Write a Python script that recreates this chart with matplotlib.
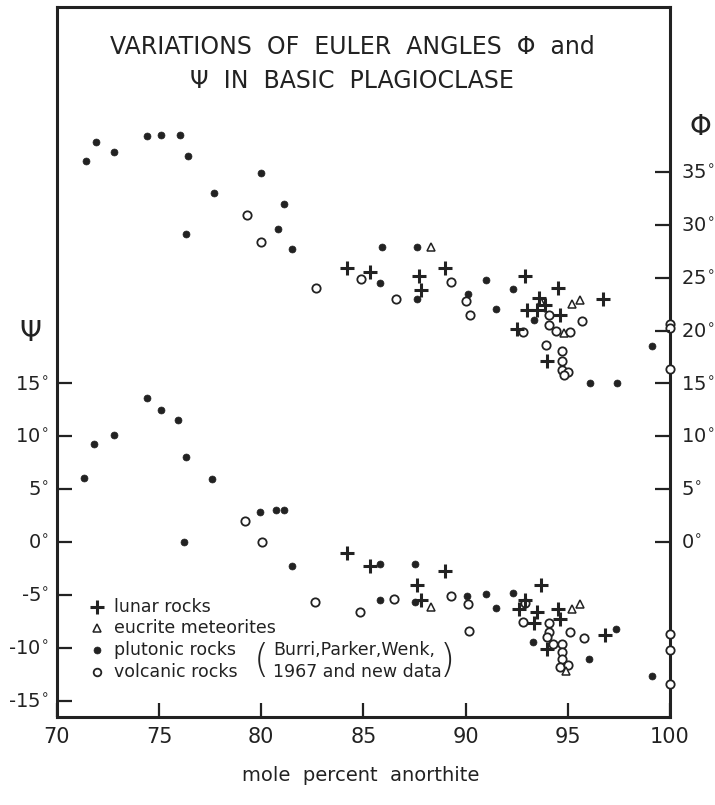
import numpy as np
import matplotlib
matplotlib.use("Agg")
import matplotlib.pyplot as plt

# (mole % An, angle)
lunar_phi = [(84.2, 25.9), (85.3, 25.5), (87.7, 25.2), (87.8, 23.8), (89.0, 25.9),
             (92.9, 25.2), (94.5, 24.0), (93.6, 23.1), (93.9, 22.4), (93.0, 21.9),
             (93.5, 21.9), (94.6, 21.5), (96.7, 23.0), (92.5, 20.1), (94.0, 17.1)]
eucrite_phi = [(88.3, 27.9), (93.7, 22.7), (94.8, 19.8), (95.2, 22.5), (95.6, 22.9)]
plutonic_phi = [(71.4, 36.0), (71.9, 37.8), (72.8, 36.9), (74.4, 38.4), (75.1, 38.5),
                (76.0, 38.5), (76.4, 36.5), (76.3, 29.1), (77.7, 33.0), (80.0, 34.9),
                (81.1, 32.0), (80.8, 29.6), (81.5, 27.7), (85.9, 27.9), (85.8, 24.5),
                (87.6, 27.9), (87.6, 23.0), (91.0, 24.8), (90.1, 23.5), (91.5, 22.0),
                (92.3, 23.9), (93.35, 21.0), (96.1, 15.0), (97.4, 15.0), (99.1, 18.5)]
volcanic_phi = [(79.3, 30.9), (80.0, 28.4), (82.7, 24.0), (84.9, 24.9), (86.6, 23.0),
                (89.3, 24.6), (90.0, 22.8), (90.2, 21.5), (94.1, 21.5), (94.1, 20.5),
                (94.4, 20.0), (95.1, 19.9), (95.7, 20.9), (92.8, 19.9), (93.95, 18.6),
                (94.7, 18.1), (94.7, 17.1), (94.7, 16.3), (95.0, 16.1), (94.8, 15.8),
                (100, 20.6), (100, 20.2), (100, 16.4)]

lunar_psi = [(84.2, -1.0), (85.3, -2.3), (89.0, -2.7), (87.6, -4.1), (87.8, -5.5),
             (93.7, -4.1), (92.9, -5.5), (92.6, -6.3), (93.5, -6.6), (93.35, -7.7),
             (94.5, -6.3), (94.6, -7.3), (94.0, -10.1), (96.8, -8.8)]
eucrite_psi = [(88.3, -6.1), (95.2, -6.3), (95.6, -5.9), (94.9, -12.2)]
plutonic_psi = [(71.3, 6.1), (71.8, 9.3), (72.8, 10.1), (74.4, 13.6), (75.1, 12.5),
                (75.9, 11.5), (76.3, 8.0), (77.6, 6.0), (76.2, 0.0), (79.95, 2.8),
                (80.7, 3.0), (81.1, 3.0), (81.5, -2.3), (85.8, -2.1), (87.5, -2.1),
                (85.8, -5.5), (87.5, -5.7), (90.05, -5.1), (91.0, -4.9), (91.5, -6.2),
                (92.3, -4.8), (93.3, -9.5), (97.35, -8.2), (96.05, -11.1), (99.1, -12.7)]
volcanic_psi = [(79.2, 2.0), (80.05, 0.0), (82.65, -5.7), (84.85, -6.65), (86.5, -5.4),
                (89.3, -5.1), (90.1, -5.9), (90.15, -8.4), (92.9, -5.8), (92.8, -7.6),
                (94.1, -7.7), (94.1, -8.5), (93.96, -9.0), (94.3, -9.6), (94.7, -9.65),
                (94.7, -10.4), (94.7, -11.1), (94.6, -11.8), (95.0, -11.6), (95.1, -8.5),
                (95.8, -9.1), (100, -8.7), (100, -10.2), (100, -13.4)]

x_ticks = [70, 75, 80, 85, 90, 95, 100]
psi_ticks = [-15, -10, -5, 0, 5, 10, 15]
phi_ticks = [0, 5, 10, 15, 20, 25, 30, 35]

legend_labels = ["lunar rocks", "eucrite meteorites", "plutonic rocks", "volcanic rocks"]

ink = "#222222"
styles = {
    "lunar": dict(marker="+", ms=10, mew=2.2, color=ink, ls="none"),
    "eucrite": dict(marker="^", ms=6, mew=1.1, mfc="white", mec=ink, ls="none"),
    "plutonic": dict(marker="o", ms=5, mew=0.5, mfc=ink, mec=ink, ls="none"),
    "volcanic": dict(marker="o", ms=6, mew=1.3, mfc="white", mec=ink, ls="none"),
}

fig = plt.figure(figsize=(7.15, 8.05), dpi=100)
ax = fig.add_axes([0.0797, 0.1093, 0.8573, 0.882])

series = [("plutonic", plutonic_phi), ("plutonic", plutonic_psi),
          ("volcanic", volcanic_phi), ("volcanic", volcanic_psi),
          ("eucrite", eucrite_phi), ("eucrite", eucrite_psi),
          ("lunar", lunar_phi), ("lunar", lunar_psi)]
for kind, pts in series:
    a = np.array(pts)
    ax.plot(a[:, 0], a[:, 1], clip_on=False, zorder=3, **styles[kind])

ax.set_xlim(70, 100)
ax.set_ylim(-16.55, 50.6)

for s in ax.spines.values():
    s.set_linewidth(2.2)
    s.set_color(ink)

deg = lambda v: "%d$^{\\circ}$" % v
ax.set_xticks(x_ticks)
ax.set_xticklabels([str(v) for v in x_ticks], fontsize=15, color=ink)
ax.set_yticks(psi_ticks)
ax.set_yticklabels([deg(v) for v in psi_ticks], fontsize=14, color=ink)
ax.tick_params(axis="x", direction="in", length=10, width=1.6, pad=7, colors=ink)
ax.tick_params(axis="y", direction="in", length=11, width=1.6, pad=6, colors=ink)

ax2 = ax.twinx()
ax2.set_ylim(ax.get_ylim())
ax2.set_yticks(phi_ticks)
ax2.set_yticklabels([deg(v) for v in phi_ticks], fontsize=14, color=ink)
ax2.tick_params(axis="y", direction="in", length=11, width=1.6, pad=8, colors=ink)
for s in ax2.spines.values():
    s.set_visible(False)

# titles and axis symbols
ax.text(0.482, 0.943, "VARIATIONS  OF  EULER  ANGLES  \u03a6  and", transform=ax.transAxes,
        ha="center", va="center", fontsize=17, color=ink)
ax.text(0.482, 0.896, "\u03a8  IN  BASIC  PLAGIOCLASE", transform=ax.transAxes,
        ha="center", va="center", fontsize=17, color=ink)
fig.text(30 / 715, 1 - 333 / 805, "\u03a8", ha="center", va="center", fontsize=20, color=ink)
fig.text(700 / 715, 1 - 127 / 805, "\u03a6", ha="center", va="center", fontsize=20, color=ink)
fig.text(0.505, 1 - 775 / 805, "mole  percent  anorthite", ha="center", va="center",
         fontsize=14, color=ink)

# hand-made legend
rows_y = [0.155, 0.125, 0.094, 0.063]
for kind, label, yy in zip(["lunar", "eucrite", "plutonic", "volcanic"], legend_labels, rows_y):
    st = dict(styles[kind])
    if kind == "volcanic":
        st["ms"] = 5.5
    ax.plot([0.065], [yy], transform=ax.transAxes, clip_on=False, **st)
    ax.text(0.093, yy, label, transform=ax.transAxes, ha="left", va="center",
            fontsize=12.5, color=ink)

ax.text(0.352, 0.094, "Burri,Parker,Wenk,", transform=ax.transAxes, ha="left",
        va="center", fontsize=12.5, color=ink)
ax.text(0.352, 0.063, "1967 and new data", transform=ax.transAxes, ha="left",
        va="center", fontsize=12.5, color=ink)
ax.text(0.333, 0.079, "(", transform=ax.transAxes, ha="center", va="center",
        fontsize=28, color=ink, fontweight="light")
ax.text(0.636, 0.079, ")", transform=ax.transAxes, ha="center", va="center",
        fontsize=28, color=ink, fontweight="light")

fig.savefig("out.png", dpi=100)
